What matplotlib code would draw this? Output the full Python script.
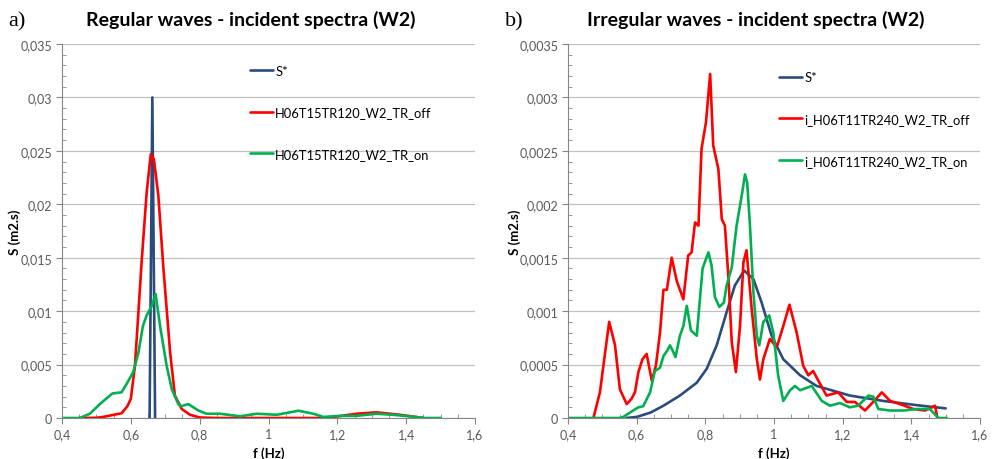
import matplotlib
matplotlib.use('Agg')
import matplotlib.pyplot as plt
from matplotlib.ticker import FuncFormatter, MultipleLocator

# ---- a) regular waves ----
reg_s_f = [0.6545, 0.6625, 0.6705]
reg_s_val = [0.0, 0.030, 0.0]

reg_off_f = [0.45, 0.50, 0.52, 0.55, 0.573, 0.59, 0.60, 0.612, 0.632, 0.646,
             0.658, 0.667, 0.68, 0.694, 0.714, 0.728, 0.748, 0.772, 0.80, 0.85,
             1.15, 1.19, 1.256, 1.314, 1.382, 1.45]
reg_off_val = [0.0, 0.00002, 0.0001, 0.0003, 0.00044, 0.0011, 0.0018, 0.0049, 0.0149, 0.0211,
               0.0247, 0.0242, 0.0208, 0.0143, 0.0062, 0.0021, 0.00084, 0.0003, 0.00005, 0.0,
               0.0, 0.0001, 0.0004, 0.00053, 0.0003, 0.0]

reg_on_f = [0.40, 0.452, 0.481, 0.51, 0.539, 0.547, 0.573, 0.588, 0.607, 0.622,
            0.635, 0.646, 0.661, 0.672, 0.685, 0.704, 0.719, 0.738, 0.745, 0.767,
            0.796, 0.82, 0.859, 0.917, 0.966, 1.024, 1.087, 1.13, 1.159, 1.208,
            1.256, 1.314, 1.362, 1.411, 1.455, 1.50]
reg_on_val = [0.0, 0.0, 0.0004, 0.0013, 0.0021, 0.0023, 0.0024, 0.0032, 0.0043, 0.0061,
              0.0086, 0.0096, 0.0105, 0.0116, 0.0086, 0.0049, 0.0027, 0.0013, 0.0011, 0.0013,
              0.0007, 0.0004, 0.0004, 0.00016, 0.0004, 0.0003, 0.00068, 0.0004, 0.0001, 0.0002,
              0.0002, 0.0004, 0.0003, 0.00015, 0.0, 0.0]

# ---- b) irregular waves ----
irr_s_f = [0.57, 0.60, 0.64, 0.678, 0.726, 0.775, 0.804, 0.833, 0.862, 0.886,
           0.913, 0.94, 0.964, 0.993, 1.027, 1.076, 1.124, 1.221, 1.318, 1.416, 1.50]
irr_s_val = [0.0, 0.00001, 0.00005, 0.000115, 0.00021, 0.00033, 0.00046, 0.00068, 0.00099, 0.00124,
             0.00138, 0.0013, 0.00108, 0.00077, 0.00055, 0.0004, 0.0003, 0.00021, 0.00016, 0.00012, 0.00009]

irr_off_f = [0.474, 0.493, 0.508, 0.520, 0.537, 0.551, 0.571, 0.585, 0.595, 0.605,
             0.617, 0.629, 0.644, 0.656, 0.668, 0.678, 0.688, 0.702, 0.717, 0.736,
             0.750, 0.760, 0.770, 0.780, 0.789, 0.802, 0.814, 0.823, 0.838, 0.848,
             0.857, 0.867, 0.877, 0.889, 0.901, 0.911, 0.920, 0.935, 0.950, 0.959,
             0.969, 0.988, 1.008, 1.027, 1.045, 1.066, 1.085, 1.10, 1.114, 1.129,
             1.153, 1.187, 1.212, 1.236, 1.265, 1.289, 1.314, 1.338, 1.367, 1.406,
             1.44, 1.469, 1.476]
irr_off_val = [0.0, 0.00024, 0.00061, 0.0009, 0.00068, 0.00027, 0.00013, 0.00018, 0.00024, 0.00043,
               0.00055, 0.0006, 0.00035, 0.00049, 0.0008, 0.0012, 0.0012, 0.0015, 0.00128, 0.00111,
               0.00152, 0.00155, 0.00183, 0.0018, 0.00252, 0.00277, 0.00322, 0.00255, 0.00233, 0.00186,
               0.0018, 0.00133, 0.00071, 0.00043, 0.00086, 0.00146, 0.00157, 0.00102, 0.00055, 0.00036,
               0.00055, 0.00074, 0.00066, 0.00086, 0.00106, 0.0008, 0.00049, 0.0004, 0.00044, 0.00035,
               0.00021, 0.00024, 0.00015, 0.00015, 0.00007, 0.00015, 0.00024, 0.00016, 0.00013, 0.000084,
               0.00007, 0.000115, 0.0]

irr_on_f = [0.40, 0.55, 0.561, 0.58, 0.605, 0.619, 0.639, 0.653, 0.668, 0.678,
            0.689, 0.697, 0.705, 0.713, 0.726, 0.736, 0.746, 0.758, 0.775, 0.792,
            0.809, 0.818, 0.828, 0.841, 0.854, 0.862, 0.877, 0.891, 0.906, 0.9155,
            0.922, 0.930, 0.94, 0.95, 0.957, 0.969, 0.986, 0.998, 1.012, 1.027,
            1.047, 1.061, 1.076, 1.11, 1.139, 1.163, 1.192, 1.221, 1.245, 1.275,
            1.289, 1.304, 1.338, 1.377, 1.416, 1.454, 1.479, 1.503]
irr_on_val = [0.0, 0.0, 0.00001, 0.00005, 0.0001, 0.00011, 0.00024, 0.00044, 0.00047, 0.00058,
              0.00063, 0.00068, 0.00063, 0.00057, 0.00077, 0.00086, 0.00105, 0.00082, 0.00077, 0.0014,
              0.00155, 0.00143, 0.00113, 0.00104, 0.00108, 0.00124, 0.00141, 0.0018, 0.00208, 0.00228,
              0.0022, 0.0018, 0.00118, 0.00077, 0.00068, 0.0009, 0.00096, 0.0008, 0.0004, 0.00016,
              0.00026, 0.0003, 0.00026, 0.0003, 0.00016, 0.000115, 0.00014, 0.0001, 0.000115, 0.00021,
              0.0002, 0.000084, 0.00007, 0.00007, 0.000084, 0.000084, 0.0, 0.0]

BLUE = '#2A4C7D'
RED = '#FF0000'
GREEN = '#00B050'
AXIS_GREY = '#868686'
GRID_GREY = '#C0C0C0'
LABEL_GREY = '#595959'
FONT = ['Lato', 'DejaVu Sans']


def comma_fmt(v, pos):
    if abs(v) < 1e-12:
        return '0'
    return '{:g}'.format(round(v, 6)).replace('.', ',')


def plot_panel(ax, series, ymax, ystep, yminor, legend_anchor, ylabel_x):
    for f, s, color, label in series:
        ax.plot(f, s, color=color, linewidth=1.9, label=label,
                solid_joinstyle='round', solid_capstyle='round')

    ax.set_xlim(0.4, 1.6)
    ax.set_ylim(0, ymax)
    ax.xaxis.set_major_locator(MultipleLocator(0.2))
    ax.xaxis.set_minor_locator(MultipleLocator(0.05))
    ax.yaxis.set_major_locator(MultipleLocator(ystep))
    ax.yaxis.set_minor_locator(MultipleLocator(yminor))
    ax.xaxis.set_major_formatter(FuncFormatter(comma_fmt))
    ax.yaxis.set_major_formatter(FuncFormatter(comma_fmt))

    for side in ('top', 'right'):
        ax.spines[side].set_visible(False)
    for side in ('left', 'bottom'):
        ax.spines[side].set_color(AXIS_GREY)
        ax.spines[side].set_linewidth(0.8)

    ax.grid(axis='y', color=GRID_GREY, linewidth=0.9)
    ax.set_axisbelow(True)
    ax.tick_params(which='major', direction='out', length=4, color=AXIS_GREY,
                   labelcolor=LABEL_GREY, labelsize=9, pad=3)
    ax.tick_params(which='minor', direction='in', length=3, color=AXIS_GREY)
    for lbl in ax.get_xticklabels() + ax.get_yticklabels():
        lbl.set_family(FONT)

    ax.set_xlabel('f (Hz)', fontsize=9.5, fontweight='bold', family=FONT)
    ax.xaxis.set_label_coords(0.5, -0.075)
    ax.set_ylabel('S (m2.s)', fontsize=9.5, fontweight='bold', family=FONT)
    ax.yaxis.set_label_coords(ylabel_x, 0.5)

    ax.legend(loc='upper left', bbox_to_anchor=legend_anchor, frameon=False,
              borderpad=0, borderaxespad=0, handlelength=1.8, handletextpad=0.15,
              labelspacing=2.3, prop={'family': FONT, 'size': 9.3})


def main():
    fig = plt.figure(figsize=(9.97, 4.6), dpi=100)
    ax_a = fig.add_axes([62 / 997, 41 / 460, 413 / 997, 374 / 460])
    ax_b = fig.add_axes([568 / 997, 41 / 460, 412 / 997, 374 / 460])

    plot_panel(ax_a, [(reg_s_f, reg_s_val, BLUE, 'S*'),
                      (reg_off_f, reg_off_val, RED, 'H06T15TR120_W2_TR_off'),
                      (reg_on_f, reg_on_val, GREEN, 'H06T15TR120_W2_TR_on')],
               0.035, 0.005, 0.001, (0.455, 0.945), -0.099)
    plot_panel(ax_b, [(irr_s_f, irr_s_val, BLUE, 'S*'),
                      (irr_off_f, irr_off_val, RED, 'i_H06T11TR240_W2_TR_off'),
                      (irr_on_f, irr_on_val, GREEN, 'i_H06T11TR240_W2_TR_on')],
               0.0035, 0.0005, 0.0001, (0.512, 0.927), -0.114)

    fig.text(251 / 997, 1 - 20 / 460, 'Regular waves - incident spectra (W2)',
             ha='center', va='center', fontsize=14, fontweight='bold', family=FONT)
    fig.text(756 / 997, 1 - 20 / 460, 'Irregular waves - incident spectra (W2)',
             ha='center', va='center', fontsize=14, fontweight='bold', family=FONT)
    fig.text(8 / 997, 1 - 22 / 460, 'a)', ha='left', va='center',
             fontsize=16, family='Liberation Serif')
    fig.text(505 / 997, 1 - 22 / 460, 'b)', ha='left', va='center',
             fontsize=16, family='Liberation Serif')

    fig.savefig('out.png', dpi=100)


if __name__ == '__main__':
    main()
